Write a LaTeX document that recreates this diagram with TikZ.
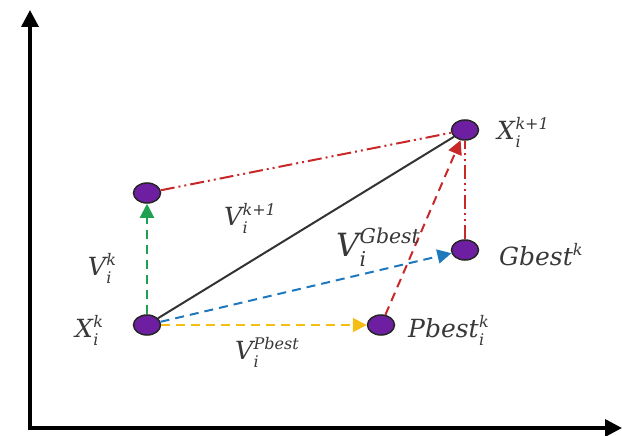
\documentclass[tikz,border=0pt]{standalone}
\usepackage{fontspec}
\setmainfont{DejaVu Serif}
\usetikzlibrary{arrows.meta,shapes.geometric}
\definecolor{pdot}{RGB}{110,30,160}
\definecolor{gline}{RGB}{30,160,80}
\definecolor{bline}{RGB}{30,120,190}
\definecolor{yline}{RGB}{245,190,20}
\definecolor{rline}{RGB}{200,40,40}
% #1 main size, #2 base, #3 sub, #4 sup
\newcommand\lbl[4]{{\fontsize{#1}{#1}\selectfont\itshape #2}\kern0.5pt{\fontsize{0.64\dimexpr #1\relax}{#1}\selectfont\itshape\setbox0\hbox{#3}\setbox1\hbox{#4}\rlap{\raisebox{-0.5em}{\box0}}\raisebox{0.62em}{\box1}}}
\begin{document}
\begin{tikzpicture}[x=1pt,y=-1pt,
  pt/.style={ellipse,draw=black!85,fill=pdot,line width=1.5pt,minimum width=27pt,minimum height=20pt,inner sep=0pt},
  lab/.style={text=black!78,inner sep=0pt},
  axis/.style={line width=3.5pt,-{Triangle[length=17pt,width=17pt]}},
  tip/.style={-{Triangle[length=14pt,width=14pt]}},
  vec/.style={line width=2pt},
  dsh/.style={dash pattern=on 9pt off 6pt},
  ddot/.style={dash pattern=on 14pt off 4pt on 2pt off 4pt on 2pt off 4pt}
]
\useasboundingbox (0,0) rectangle (622,436);
\coordinate (O) at (30,428);
\coordinate (Ytop) at (30,10);
\coordinate (Xend) at (622,428);
\draw[axis] (O) -- (Ytop);
\draw[axis] (28.25,428) -- (Xend);

\node[pt] (xk) at (147,325) {};
\node[pt] (v) at (147,193) {};
\node[pt] (xk1) at (465,130) {};
\node[pt] (gb) at (465,250) {};
\node[pt] (pb) at (381,325) {};

\draw[vec,black!80] (xk) -- (xk1);
\draw[vec,gline,dsh,tip] (xk) -- (v);
\draw[vec,bline,dsh,tip] (xk) -- (gb);
\draw[vec,yline,dsh,tip] (xk) -- (pb);
\draw[vec,rline,ddot] (v) -- (xk1);
\draw[vec,rline,dsh,tip] (pb) -- (xk1);
\draw[vec,rline,ddot] (gb) -- (xk1);

\node[lab,anchor=west] (lxk1) at (497,132) {\lbl{25pt}{X}{i}{k+1}};
\node[lab,anchor=west] (lgb) at (499,255) {{\fontsize{25pt}{25pt}\selectfont\itshape Gbest\raisebox{0.4em}{\fontsize{16pt}{16pt}\selectfont k}}};
\node[lab,anchor=west] (lpb) at (408,330) {\lbl{25pt}{Pbest}{i}{k}};
\node[lab] (lxk) at (89,330) {\lbl{25pt}{X}{i}{k}};
\node[lab] (lvk) at (102,268) {\lbl{25pt}{V}{i}{k}};
\node[lab] (lvk1) at (250,218) {\lbl{25pt}{V}{i}{k+1}};
\node[lab] (lvg) at (378,247) {\lbl{32pt}{V}{i}{Gbest}};
\node[lab] (lvp) at (267,352) {\lbl{25pt}{V}{i}{Pbest}};
\end{tikzpicture}
\end{document}
